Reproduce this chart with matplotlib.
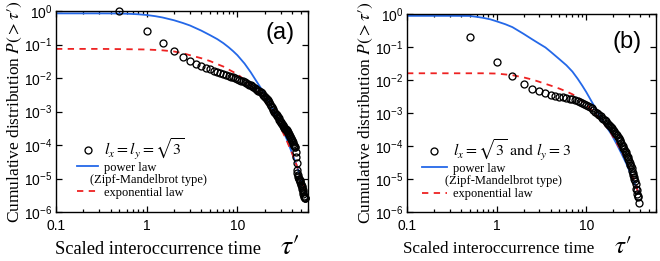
import numpy as np
import matplotlib
matplotlib.use("Agg")
import matplotlib.pyplot as plt
import matplotlib.transforms as mtransforms
from matplotlib.lines import Line2D
from matplotlib.font_manager import FontProperties
from matplotlib.ticker import LogLocator, NullLocator, FuncFormatter

plt.rcParams['font.family'] = 'Liberation Sans'
plt.rcParams['mathtext.fontset'] = 'custom'
plt.rcParams['mathtext.rm'] = 'Liberation Serif'
plt.rcParams['mathtext.it'] = 'Liberation Serif:italic'
plt.rcParams['mathtext.sf'] = 'Liberation Sans'

# ---- panel (a): l_x = l_y = sqrt(3)
tau_a = np.arange(0.5, 56.01, 0.5)
p_a = [1.0, 0.26, 0.11, 0.063, 0.043, 0.033, 0.027, 0.023, 0.020, 0.018,
       0.0165, 0.015, 0.014, 0.013, 0.0123, 0.0116, 0.011, 0.0104, 0.0099, 0.0094,
       0.0089, 0.0084, 0.0079, 0.0075, 0.0071, 0.0067, 0.0063, 0.0060, 0.0056, 0.0053,
       0.0050, 0.0047, 0.0044, 0.0042, 0.0040, 0.0037, 0.0035, 0.0032, 0.0030, 0.0028,
       0.0026, 0.0024, 0.0022, 0.0020, 0.0019, 0.0017, 0.0015, 0.0014, 0.0012, 0.0011,
       1.0e-3, 9.3e-4, 8.6e-4, 7.9e-4, 7.3e-4, 6.7e-4, 6.2e-4, 5.7e-4, 5.2e-4, 4.8e-4,
       4.5e-4, 4.2e-4, 3.9e-4, 3.7e-4, 3.5e-4, 3.3e-4, 3.1e-4, 3.0e-4, 2.9e-4, 2.8e-4,
       2.6e-4, 2.5e-4, 2.3e-4, 2.2e-4, 2.0e-4, 1.9e-4, 1.7e-4, 1.6e-4, 1.5e-4, 1.4e-4,
       1.3e-4, 1.2e-4, 1.1e-4, 1.0e-4, 9.5e-5, 9.0e-5, 8.5e-5, 6.0e-5, 4.5e-5, 3.0e-5,
       1.8e-5, 1.5e-5, 1.3e-5, 1.1e-5, 1.0e-5, 9.5e-6, 9.0e-6, 8.5e-6, 8.0e-6, 7.0e-6,
       6.5e-6, 6.0e-6, 5.5e-6, 5.0e-6, 4.5e-6, 4.0e-6, 3.5e-6, 3.0e-6, 2.8e-6, 2.6e-6,
       2.6e-6, 2.6e-6]

pow_x_a = [0.1, 0.2, 0.3, 0.4, 0.5, 0.6, 0.7, 0.8, 1, 1.25, 1.5, 2, 2.5, 3, 4, 5, 6, 7, 8, 9,
           10, 12, 14, 16, 18, 20, 23, 26, 30, 35, 40, 45, 50, 55, 60]
pow_y_a = [0.85, 0.85, 0.85, 0.848, 0.84, 0.83, 0.815, 0.80, 0.76, 0.70, 0.64, 0.53, 0.44, 0.37,
           0.26, 0.19, 0.145, 0.11, 0.083, 0.063, 0.048, 0.027, 0.015, 0.0085, 0.0052, 0.0035,
           0.0017, 8.5e-4, 3.6e-4, 1.5e-4, 5.8e-5, 2.5e-5, 1.05e-5, 5e-6, 2.6e-6]
exp_x_a = [0.1, 0.3, 0.5, 0.7, 1, 1.5, 2, 2.5, 3, 4, 5, 6, 7, 8, 10, 12, 14, 16, 18, 20, 23, 26,
           30, 35, 40, 45, 50, 55, 60]
exp_y_a = [0.074, 0.074, 0.073, 0.072, 0.071, 0.067, 0.062, 0.055, 0.048, 0.039, 0.032, 0.026,
           0.022, 0.018, 0.013, 0.0088, 0.006, 0.0042, 0.003, 0.0021, 0.0012, 6.8e-4, 3.3e-4,
           1.35e-4, 5.8e-5, 2.5e-5, 1.1e-5, 5e-6, 2.8e-6]

# ---- panel (b): l_x = sqrt(3), l_y = 3
tau_b = np.arange(0.5, 38.51, 0.5)
p_b = [0.2, 0.035, 0.013, 0.0075, 0.0055, 0.0046, 0.0040, 0.0036, 0.0033, 0.0031,
       0.0030, 0.0029, 0.0027, 0.0026, 0.0025, 0.0023, 0.0022, 0.0020, 0.0019, 0.0017,
       0.0016, 0.0015, 0.0014, 0.0012, 0.0011, 0.0010, 9.5e-4, 8.7e-4, 8.0e-4, 7.3e-4,
       6.7e-4, 6.1e-4, 5.6e-4, 5.1e-4, 4.7e-4, 4.3e-4, 4.0e-4, 3.7e-4, 3.4e-4, 3.1e-4,
       2.8e-4, 2.5e-4, 2.3e-4, 2.1e-4, 1.9e-4, 1.7e-4, 1.55e-4, 1.4e-4, 1.25e-4, 1.1e-4,
       1.0e-4, 9.0e-5, 8.0e-5, 7.2e-5, 6.5e-5, 5.8e-5, 5.1e-5, 4.5e-5, 4.0e-5, 3.5e-5,
       3.1e-5, 2.7e-5, 2.4e-5, 2.1e-5, 1.8e-5, 1.55e-5, 1.3e-5, 1.15e-5, 1.0e-5, 8.5e-6,
       7.0e-6, 5.0e-6, 4.5e-6, 3.5e-6, 3.0e-6, 2.8e-6, 1.9e-6]

pow_x_b = [0.1, 0.3, 0.5, 0.6, 0.7, 0.85, 1, 1.25, 1.5, 2, 2.5, 3, 3.5, 4, 5, 6, 7, 8, 9, 10,
           12, 14, 16, 19, 22, 25, 28, 31, 34, 36, 38.5]
pow_y_b = [0.88, 0.88, 0.875, 0.82, 0.77, 0.69, 0.60, 0.49, 0.40, 0.25, 0.17, 0.125, 0.097,
           0.072, 0.043, 0.028, 0.018, 0.011, 0.0068, 0.0043, 0.0018, 8.5e-4, 4.6e-4, 2.3e-4,
           1.1e-4, 5.5e-5, 2.9e-5, 1.5e-5, 8.3e-6, 5.8e-6, 3.9e-6]
exp_x_b = [0.1, 0.3, 0.5, 0.7, 1, 1.5, 2, 2.5, 3, 4, 5, 6, 7, 8, 9, 10, 12, 14, 16, 19, 22, 25,
           28, 31, 34, 36, 38]
exp_y_b = [0.016, 0.016, 0.016, 0.016, 0.0157, 0.014, 0.012, 0.0103, 0.0088, 0.0068, 0.0055,
           0.0045, 0.0037, 0.003, 0.0023, 0.0018, 0.0011, 7e-4, 4.5e-4, 2.4e-4, 1.2e-4, 6.5e-5,
           3.5e-5, 1.8e-5, 9e-6, 6e-6, 3.8e-6]

blue = '#2468e8'
red = '#ee2222'

fig = plt.figure(figsize=(6.6, 2.61), dpi=100)
ax_a = fig.add_axes([0.0848, 0.1877, 0.3818, 0.7701])
ax_b = fig.add_axes([0.6167, 0.1877, 0.3773, 0.7586])

panels = [
    (ax_a, tau_a, p_a, pow_x_a, pow_y_a, exp_x_a, exp_y_a, r'$l_x = l_y = \sqrt{3}$', '(a)',
     (0.083, 0.375), 1.7, -14, 0.405, (0.89, 0.89), 13.2, 20),
    (ax_b, tau_b, p_b, pow_x_b, pow_y_b, exp_x_b, exp_y_b, r'$l_x = \sqrt{3}\ \mathrm{and}\ l_y = 3$', '(b)',
     (0.06, 0.375), 2.0, -8, 0.37, (0.885, 0.86), 12.3, 18),
]

for ax, tx, py, px1, py1, px2, py2, lab, tag, anchor, hlen, shift, xlc, tagpos, xfs, taufs in panels:
    pts, = ax.plot(tx, py, 'o', mfc='none', mec='black', ms=5.0, mew=0.95, clip_on=False, zorder=3)
    ln1, = ax.plot(px1, py1, '-', color=blue, lw=1.3, zorder=2)
    ln2, = ax.plot(px2, py2, '--', color=red, lw=1.3, dashes=(3.5, 3), zorder=2)
    ax.set_xscale('log')
    ax.set_yscale('log')
    ax.set_xlim(0.1, 60)
    ax.set_ylim(1e-6, 1)
    ax.xaxis.set_major_locator(LogLocator(base=10, numticks=10))
    ax.xaxis.set_minor_locator(LogLocator(base=10, subs=np.arange(2, 10), numticks=10))
    ax.xaxis.set_major_formatter(FuncFormatter(lambda v, p: '%g' % v))
    ax.yaxis.set_major_locator(LogLocator(base=10, numticks=10))
    ax.yaxis.set_minor_locator(NullLocator())
    ax.yaxis.set_major_formatter(FuncFormatter(lambda v, p: r'$\mathsf{10^{%d}}$' % round(np.log10(v))))
    ax.tick_params(which='both', direction='in', top=True, right=True, width=0.9)
    ax.tick_params(which='major', length=4, labelsize=10)
    ax.tick_params(axis='x', which='major', pad=5)
    ax.tick_params(axis='y', which='major', pad=2.5)
    ax.tick_params(which='minor', length=2)
    for s in ax.spines.values():
        s.set_linewidth(1.0)
    ax.set_xlabel("Scaled interoccurrence time", family='Liberation Serif', fontsize=xfs)
    ax.xaxis.set_label_coords(xlc, -0.145)
    ax.annotate(r"$\tau\prime$", xy=(1, 0), xycoords=ax.xaxis.label, xytext=(14, 3),
                textcoords='offset points', fontsize=taufs, ha='left', va='baseline',
                math_fontfamily='stix')
    ax.set_ylabel(r"Cumulative distribution $P(>\tau\prime)$", family='Liberation Serif', fontsize=12.5,
                  labelpad=0, math_fontfamily='stix')
    ax.text(tagpos[0], tagpos[1], tag, transform=ax.transAxes, fontsize=17, ha='center', va='center')

    blank = Line2D([], [], linestyle='none')
    leg = ax.legend([pts, ln1, blank, ln2],
                    [lab, 'power law', '(Zipf-Mandelbrot type)', 'exponential law'],
                    loc='upper left', bbox_to_anchor=anchor, frameon=False,
                    prop=FontProperties(family='Liberation Serif', size=9, math_fontfamily='stix'),
                    handlelength=hlen, handletextpad=0.5, labelspacing=0.05,
                    borderpad=0, borderaxespad=0, numpoints=1)
    texts = leg.get_texts()
    texts[0].set_fontsize(11.5)
    texts[2].set_transform(texts[2].get_transform() + mtransforms.Affine2D().translate(shift, 0))

fig.savefig('out.png', dpi=100)
